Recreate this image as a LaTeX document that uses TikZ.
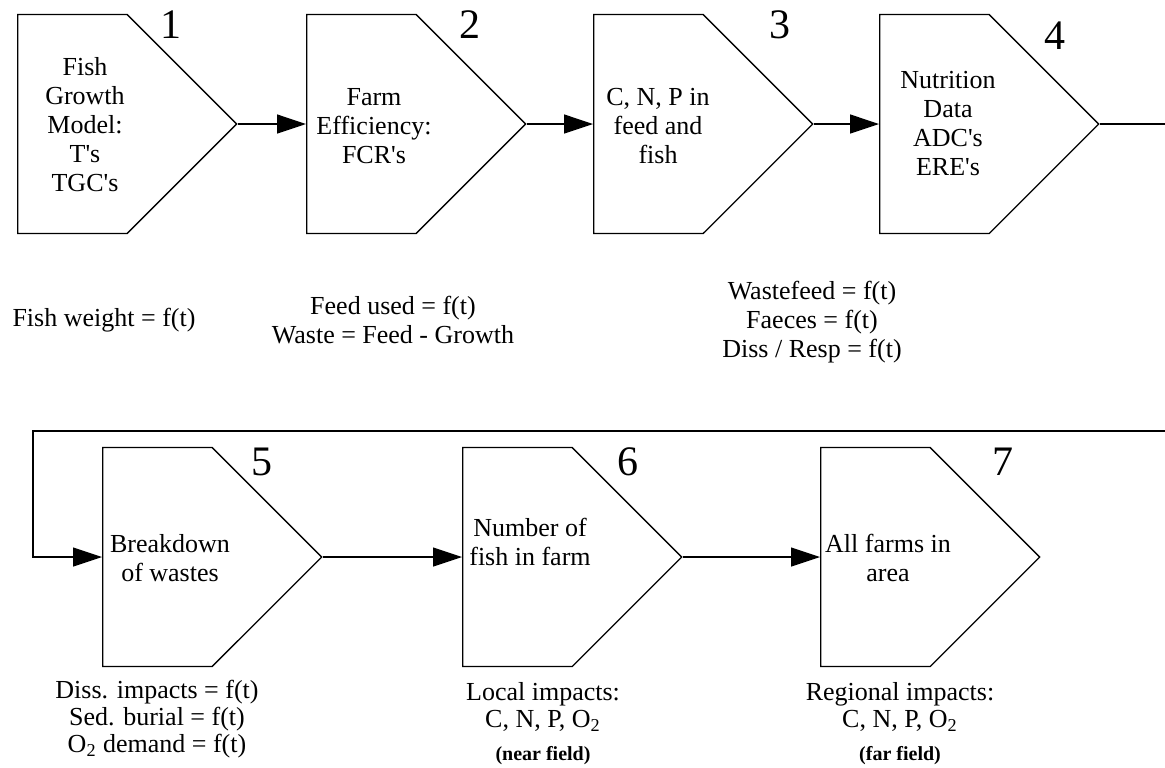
\documentclass[tikz,border=0pt]{standalone}
\usepackage{fontspec}
\setmainfont{Liberation Serif}
\usetikzlibrary{shapes.symbols,arrows.meta}

\begin{document}
\begin{tikzpicture}[x=0.5pt, y=-0.5pt,
    stage/.style={signal, signal to=east, draw, line width=0.65pt, minimum width=109.5pt, minimum height=109.5pt, inner sep=0pt, anchor=west},
    num/.style={font=\fontsize{21}{21}\selectfont},
    txt/.style={align=center, font=\fontsize{13}{14.5}\selectfont},
    sub/.style={align=center, font=\fontsize{13}{13.5}\selectfont},
    tag/.style={font=\fontsize{10}{11}\selectfont\bfseries},
    link/.style={line width=0.65pt, -{Triangle[length=14.5pt, width=9.5pt]}}]
        \useasboundingbox (0,0) rectangle (1165,767);
        \clip (0,0) rectangle (1165,767);

        \node[stage] at (17, 124)  (b1) {};
        \node[stage] at (306, 124) (b2) {};
        \node[stage] at (593, 124) (b3) {};
        \node[stage] at (879, 124) (b4) {};
        \node[stage] at (102, 557) (b5) {};
        \node[stage] at (462, 557) (b6) {};
        \node[stage] at (820, 557) (b7) {};

        \node[txt] at (85, 125)  (t1) {Fish\\Growth\\Model:\\T\textquotesingle s\\TGC\textquotesingle s};
        \node[txt] at (374, 126) (t2) {Farm\\Efficiency:\\FCR\textquotesingle s};
        \node[txt] at (658, 126) (t3) {C, N, P in\\feed and\\fish};
        \node[txt] at (948, 124) (t4) {Nutrition\\Data\\ADC\textquotesingle s\\ERE\textquotesingle s};
        \node[txt] at (170, 558) (t5) {Breakdown\\of wastes};
        \node[txt] at (530, 542) (t6) {Number of\\fish in farm};
        \node[txt] at (888, 558) (t7) {All farms in\\area};

        \node[num] at (171, 25)  (n1) {1};
        \node[num] at (470, 25)  (n2) {2};
        \node[num] at (780, 25)  (n3) {3};
        \node[num] at (1055, 36) (n4) {4};
        \node[num] at (262, 462) (n5) {5};
        \node[num] at (628, 462) (n6) {6};
        \node[num] at (1003, 462) (n7) {7};

        \node[txt] at (104, 320) (o1) {Fish weight = f(t)};
        \node[txt] at (393, 320) (o2) {Feed used = f(t)\\Waste = Feed - Growth};
        \node[txt] at (812, 322) (o3) {Wastefeed = f(t)\\Faeces = f(t)\\Diss / Resp = f(t)};
        \node[sub] at (157, 719) (o5) {Diss. impacts = f(t)\\Sed. burial = f(t)\\O\textsubscript{2} demand = f(t)};
        \node[sub] at (543, 707) (o6) {Local impacts:\\C, N, P, O\textsubscript{2}};
        \node[sub] at (900, 707) (o7) {Regional impacts:\\C, N, P, O\textsubscript{2}};
        \node[tag] at (543, 756) (k6) {(near field)};
        \node[tag] at (900, 756) (k7) {(far field)};

        % return line runs off the right edge and back
        \coordinate (r1) at (1185, 124);
        \coordinate (r2) at (1185, 431);
        \coordinate (l1) at (33, 431);

        \draw[link] (b1.east) -- (b2.west);
        \draw[link] (b2.east) -- (b3.west);
        \draw[link] (b3.east) -- (b4.west);
        \draw[link] (b4.east) -- (r1) -- (r2) -- (l1) |- (b5.west);
        \draw[link] (b5.east) -- (b6.west);
        \draw[link] (b6.east) -- (b7.west);
\end{tikzpicture}
\end{document}
